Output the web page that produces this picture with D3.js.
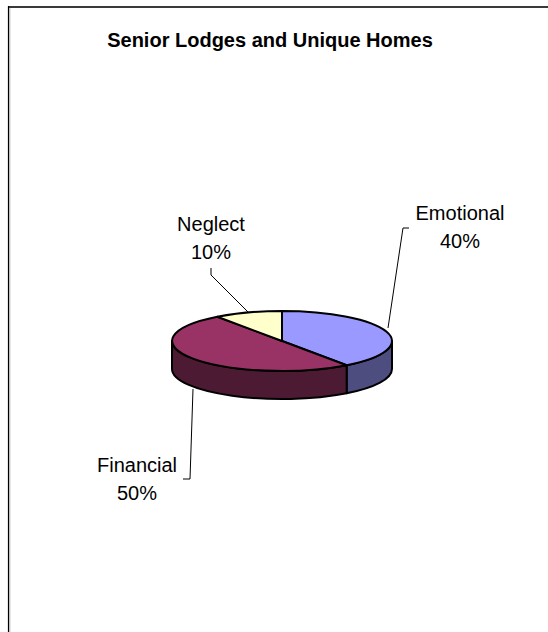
<!DOCTYPE html>
<html>
<head>
<meta charset="utf-8">
<script src="https://cdn.jsdelivr.net/npm/d3@7"></script>
<style>
  html, body { margin: 0; padding: 0; background: #fff; }
  svg { display: block; }
  text { font-family: "Liberation Sans", Arial, sans-serif; fill: #000; }
</style>
</head>
<body>
<svg id="chart" width="548" height="632"></svg>
<script>
// Abuse categories and their shares (%)
const categories = ["Emotional", "Financial", "Neglect"];
const values = [40, 50, 10];
const valueLabels = ["40%", "50%", "10%"];
const topColors = ["#9999FF", "#993366", "#FFFFCC"];
const sideColors = ["#4D4D80", "#4D1A33", "#80805F"];
const chartTitle = "Senior Lodges and Unique Homes";

const W = 548, H = 632;
const svg = d3.select("#chart");

// chart frame (only the top and left edges fall inside the view)
svg.append("line").attr("x1", 8).attr("x2", W).attr("y1", 7).attr("y2", 7)
  .attr("stroke", "#3a3a3a").attr("stroke-width", 2);
svg.append("line").attr("x1", 8.5).attr("x2", 8.5).attr("y1", 6).attr("y2", H)
  .attr("stroke", "#000").attr("stroke-width", 1.2);
svg.append("line").attr("x1", 9.8).attr("x2", 9.8).attr("y1", 8).attr("y2", H)
  .attr("stroke", "#b0b0b0").attr("stroke-width", 1);

// title
svg.append("text").attr("x", 270).attr("y", 47)
  .attr("text-anchor", "middle")
  .style("font-weight", "bold").style("font-size", "20px")
  .text(chartTitle);

// 3-D pie geometry
const cx = 282, cy = 341, rx = 110, ry = 30, depth = 28;
const pie = d3.pie().sort(null).value(d => d)
  .startAngle(0).endAngle(2 * Math.PI);
const arcs = pie(values);

const px = a => cx + rx * Math.sin(a);
const py = a => cy - ry * Math.cos(a);

function topPath(a0, a1) {
  const large = (a1 - a0) > Math.PI ? 1 : 0;
  return `M${cx},${cy}L${px(a0)},${py(a0)}A${rx},${ry} 0 ${large} 1 ${px(a1)},${py(a1)}Z`;
}
function sidePath(a0, a1) {
  const s = Math.max(a0, Math.PI / 2), e = Math.min(a1, 3 * Math.PI / 2);
  if (s >= e) return null;
  const large = (e - s) > Math.PI ? 1 : 0;
  return `M${px(s)},${py(s)}A${rx},${ry} 0 ${large} 1 ${px(e)},${py(e)}` +
         `L${px(e)},${py(e) + depth}A${rx},${ry} 0 ${large} 0 ${px(s)},${py(s) + depth}Z`;
}

const g = svg.append("g");
arcs.forEach((d, i) => {
  const p = sidePath(d.startAngle, d.endAngle);
  if (p) g.append("path").attr("d", p).attr("fill", sideColors[i])
    .attr("stroke", "#000").attr("stroke-width", 2).attr("stroke-linejoin", "round");
});
arcs.forEach((d, i) => {
  g.append("path").attr("d", topPath(d.startAngle, d.endAngle)).attr("fill", topColors[i])
    .attr("stroke", "#000").attr("stroke-width", 2).attr("stroke-linejoin", "round");
});

// data labels with leader lines
const labelPos = {
  Emotional: { x: 460, y: 220, line: [[409, 228], [403, 228], [388, 328]] },
  Financial: { x: 137, y: 472, line: [[193, 389], [190, 479], [183, 479]] },
  Neglect:   { x: 211, y: 231, line: [[211, 268], [211, 275], [248, 312]] }
};
categories.forEach((c, i) => {
  const L = labelPos[c];
  svg.append("path").attr("d", d3.line()(L.line))
    .attr("fill", "none").attr("stroke", "#000").attr("stroke-width", 1);
  const t = svg.append("text").attr("x", L.x).attr("y", L.y)
    .attr("text-anchor", "middle").style("font-size", "20px");
  t.append("tspan").attr("x", L.x).text(c);
  t.append("tspan").attr("x", L.x).attr("dy", 27.5).text(valueLabels[i]);
});
</script>
</body>
</html>
